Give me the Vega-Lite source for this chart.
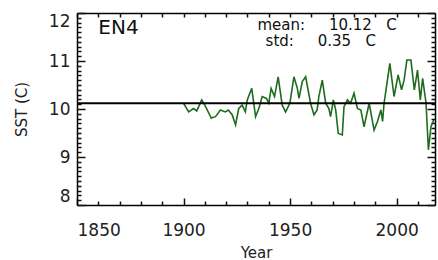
{
  "$schema": "https://vega.github.io/schema/vega-lite/v6.json",
  "autosize": "none",
  "width": 358,
  "height": 192,
  "padding": {"left": 77, "top": 13, "right": 3, "bottom": 55},
  "background": "white",
  "config": {
    "view": {"stroke": null},
    "axis": {"zindex": 1, "labelFont": "DejaVu Sans", "titleFont": "DejaVu Sans", "labelColor": "#222", "titleColor": "#222", "titleFontWeight": "normal", "domainColor": "black", "domainWidth": 1.5, "tickColor": "#111111", "tickWidth": 1.5, "tickOpacity": 1, "grid": false}
  },
  "datasets": {
    "sst": [
      {"Year": 1900.0, "SST": 10.12}, {"Year": 1902.4, "SST": 9.94}, {"Year": 1904.7, "SST": 10.01},
      {"Year": 1906.2, "SST": 9.96}, {"Year": 1908.5, "SST": 10.19}, {"Year": 1910.0, "SST": 10.08},
      {"Year": 1913.0, "SST": 9.81}, {"Year": 1915.0, "SST": 9.84}, {"Year": 1917.3, "SST": 9.98},
      {"Year": 1919.6, "SST": 9.94}, {"Year": 1921.0, "SST": 9.98}, {"Year": 1922.8, "SST": 9.88},
      {"Year": 1924.4, "SST": 9.67}, {"Year": 1925.9, "SST": 10.01}, {"Year": 1927.5, "SST": 10.08},
      {"Year": 1929.0, "SST": 9.94}, {"Year": 1929.9, "SST": 10.19}, {"Year": 1932.0, "SST": 10.43},
      {"Year": 1933.8, "SST": 9.84}, {"Year": 1935.4, "SST": 10.02}, {"Year": 1936.9, "SST": 10.26},
      {"Year": 1938.9, "SST": 10.22}, {"Year": 1940.0, "SST": 10.12}, {"Year": 1941.1, "SST": 10.43},
      {"Year": 1942.7, "SST": 10.26}, {"Year": 1944.4, "SST": 10.67}, {"Year": 1946.3, "SST": 10.08},
      {"Year": 1947.9, "SST": 9.94}, {"Year": 1949.9, "SST": 10.12}, {"Year": 1951.8, "SST": 10.67},
      {"Year": 1953.4, "SST": 10.43}, {"Year": 1954.2, "SST": 10.22}, {"Year": 1955.7, "SST": 10.57},
      {"Year": 1957.3, "SST": 10.67}, {"Year": 1959.6, "SST": 10.12}, {"Year": 1961.2, "SST": 9.88},
      {"Year": 1962.7, "SST": 9.98}, {"Year": 1963.5, "SST": 10.26}, {"Year": 1965.1, "SST": 10.6},
      {"Year": 1966.7, "SST": 10.12}, {"Year": 1968.2, "SST": 10.01}, {"Year": 1969.0, "SST": 9.84},
      {"Year": 1970.3, "SST": 10.19}, {"Year": 1971.4, "SST": 9.98}, {"Year": 1972.6, "SST": 9.49},
      {"Year": 1974.5, "SST": 9.46}, {"Year": 1975.3, "SST": 10.05}, {"Year": 1976.9, "SST": 10.19},
      {"Year": 1978.4, "SST": 10.12}, {"Year": 1980.0, "SST": 10.33}, {"Year": 1981.6, "SST": 10.01},
      {"Year": 1983.2, "SST": 9.98}, {"Year": 1984.7, "SST": 9.63}, {"Year": 1987.1, "SST": 10.12},
      {"Year": 1989.4, "SST": 9.56}, {"Year": 1991.0, "SST": 9.74}, {"Year": 1992.6, "SST": 9.98},
      {"Year": 1993.4, "SST": 9.74}, {"Year": 1994.1, "SST": 10.12}, {"Year": 1994.9, "SST": 10.36},
      {"Year": 1996.8, "SST": 10.95}, {"Year": 1998.8, "SST": 10.26}, {"Year": 2000.7, "SST": 10.71},
      {"Year": 2002.3, "SST": 10.4}, {"Year": 2003.5, "SST": 10.6}, {"Year": 2004.8, "SST": 11.02},
      {"Year": 2006.7, "SST": 11.02}, {"Year": 2008.3, "SST": 10.4}, {"Year": 2009.8, "SST": 10.81},
      {"Year": 2011.1, "SST": 10.19}, {"Year": 2012.2, "SST": 10.64}, {"Year": 2013.8, "SST": 10.12},
      {"Year": 2014.9, "SST": 9.15}, {"Year": 2016.1, "SST": 9.63}, {"Year": 2017.4, "SST": 9.77}
    ],
    "stats": [{"mean": 10.12, "label1": "mean:\u00a0\u00a0\u00a0\u00a0\u00a010.12\u00a0\u00a0\u00a0C", "label2": "std:\u00a0\u00a0\u00a0\u00a0\u00a00.35\u00a0\u00a0\u00a0C", "name": "EN4"}]
  },
  "resolve": {"axis": {"x": "independent", "y": "independent"}},
  "layer": [
    {
      "data": {"name": "sst"},
      "mark": {"type": "line", "color": "#1e6b1e", "strokeWidth": 1.6, "clip": true},
      "encoding": {
        "x": {"field": "Year", "type": "quantitative", "scale": {"domain": [1850, 2018], "nice": false, "zero": false},
          "axis": {"orient": "bottom", "title": "Year", "titleFontSize": 15, "titlePadding": 7,
            "values": [1850, 1900, 1950, 2000], "ticks": false,
            "labelFontSize": 17, "labelPadding": 17, "labelBaseline": "top", "format": "d"}},
        "y": {"field": "SST", "type": "quantitative", "scale": {"domain": [8, 12], "nice": false, "zero": false},
          "axis": {"orient": "left", "title": "SST (C)", "titleFontSize": 15, "titlePadding": 19,
            "values": [8, 9, 10, 11, 12], "format": "d", "ticks": false,
            "labelFontSize": 17, "labelPadding": 7, "labelFlush": true}}
      }
    },
    {
      "data": {"name": "stats"},
      "mark": {"type": "rule", "color": "black", "strokeWidth": 2},
      "encoding": {
        "y": {"field": "mean", "type": "quantitative",
          "axis": {"orient": "right", "offset": -358, "title": null, "labels": false, "domain": false, "tickSize": 8,
            "values": [8, 9, 10, 11, 12]}}
      }
    },
    {
      "data": {"name": "stats"},
      "mark": {"type": "text", "font": "DejaVu Sans", "fontSize": 20, "align": "left", "baseline": "alphabetic", "color": "#111"},
      "encoding": {
        "x": {"datum": 1860, "type": "quantitative",
          "axis": {"orient": "top", "offset": -192, "title": null, "labels": false, "domain": false, "tickSize": 7,
            "values": [1850, 1900, 1950, 2000]}},
        "y": {"datum": 11.56, "type": "quantitative",
          "axis": {"orient": "right", "offset": -358, "title": null, "labels": false, "domain": false, "tickSize": 4,
            "values": [8.1,8.2,8.3,8.4,8.5,8.6,8.7,8.8,8.9,9.1,9.2,9.3,9.4,9.5,9.6,9.7,9.8,9.9,10.1,10.2,10.3,10.4,10.5,10.6,10.7,10.8,10.9,11.1,11.2,11.3,11.4,11.5,11.6,11.7,11.8,11.9]}},
        "text": {"field": "name"}
      }
    },
    {
      "data": {"name": "stats"},
      "mark": {"type": "text", "font": "DejaVu Sans", "fontSize": 15, "align": "left", "baseline": "alphabetic", "color": "#111"},
      "encoding": {
        "x": {"datum": 1934.7, "type": "quantitative",
          "axis": {"orient": "top", "offset": -192, "title": null, "labels": false, "domain": false, "tickSize": 4,
            "values": [1860,1870,1880,1890,1910,1920,1930,1940,1960,1970,1980,1990,2010]}},
        "y": {"datum": 11.65, "type": "quantitative",
          "axis": {"orient": "left", "offset": -358, "title": null, "labels": false, "domain": true, "tickSize": 8,
            "values": [8, 9, 10, 11, 12]}},
        "text": {"field": "label1"}
      }
    },
    {
      "data": {"name": "stats"},
      "mark": {"type": "text", "font": "DejaVu Sans", "fontSize": 15, "align": "left", "baseline": "alphabetic", "color": "#111"},
      "encoding": {
        "x": {"datum": 1938.5, "type": "quantitative",
          "axis": {"orient": "bottom", "offset": -192, "title": null, "labels": false, "domain": true, "tickSize": 4,
            "values": [1850,1860,1870,1880,1890,1900,1910,1920,1930,1940,1950,1960,1970,1980,1990,2000,2010]}},
        "y": {"datum": 11.31, "type": "quantitative",
          "axis": {"orient": "left", "offset": -358, "title": null, "labels": false, "domain": false, "tickSize": 4,
            "values": [8.1,8.2,8.3,8.4,8.5,8.6,8.7,8.8,8.9,9.1,9.2,9.3,9.4,9.5,9.6,9.7,9.8,9.9,10.1,10.2,10.3,10.4,10.5,10.6,10.7,10.8,10.9,11.1,11.2,11.3,11.4,11.5,11.6,11.7,11.8,11.9]}},
        "text": {"field": "label2"}
      }
    }
  ]
}
